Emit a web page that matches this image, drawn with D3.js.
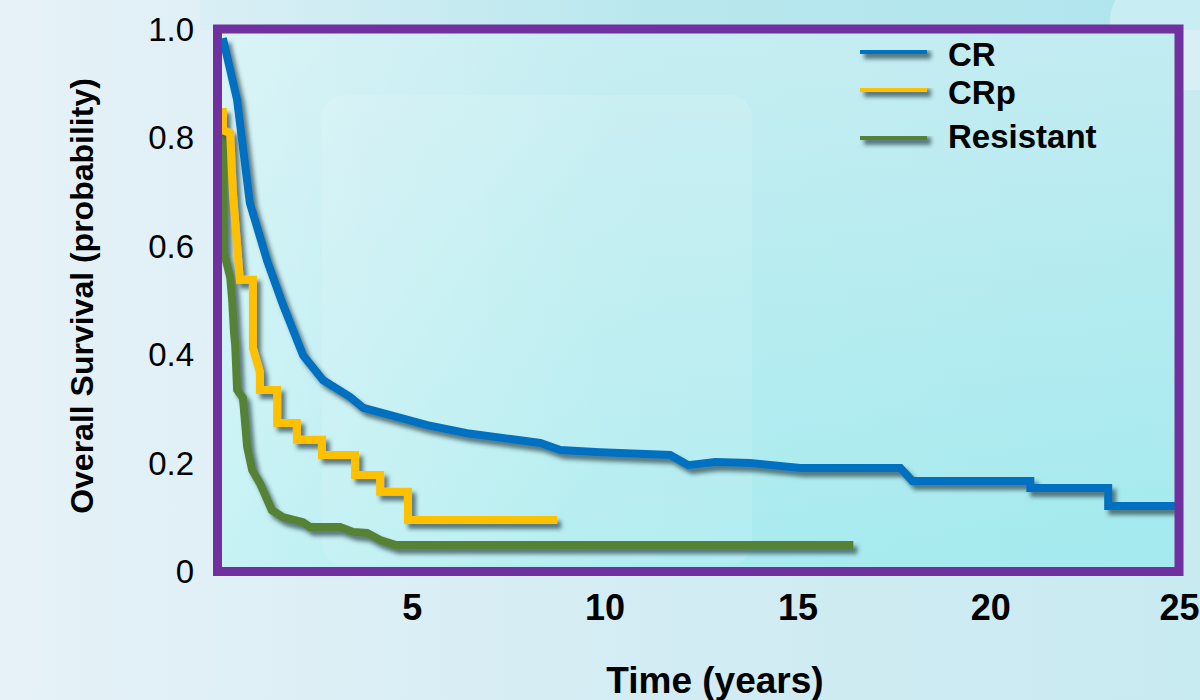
<!DOCTYPE html>
<html>
<head>
<meta charset="utf-8">
<script src="https://cdn.jsdelivr.net/npm/d3@7"></script>
<style>
  body { margin: 0; padding: 0; overflow: hidden; }
  #container { width: 1200px; height: 700px; }
  text { font-family: "Liberation Sans", Arial, sans-serif; }
</style>
</head>
<body>
<div id="container"></div>
<script>
// data (time in years, overall survival as probability)
let crTime = [0.10, 0.47, 0.80, 1.25, 1.66, 2.18, 2.70, 3.40, 3.74, 4.25, 5.40, 6.43, 8.33, 8.85, 9.88, 11.70, 12.17, 12.87, 13.77, 15.07, 17.67, 17.98, 21.04, 21.04, 23.06, 23.06, 24.80];
let crSurv = [0.985, 0.871, 0.681, 0.574, 0.493, 0.400, 0.354, 0.323, 0.303, 0.293, 0.271, 0.256, 0.238, 0.225, 0.221, 0.216, 0.197, 0.203, 0.201, 0.192, 0.192, 0.168, 0.168, 0.155, 0.155, 0.122, 0.122];

let crpTime = [0.10, 0.10, 0.29, 0.36, 0.54, 0.88, 0.88, 1.06, 1.06, 1.51, 1.51, 2.02, 2.02, 2.67, 2.67, 3.53, 3.53, 4.18, 4.18, 4.90, 4.90, 8.77];
let crpSurv = [0.856, 0.815, 0.810, 0.699, 0.539, 0.539, 0.413, 0.369, 0.336, 0.336, 0.275, 0.275, 0.244, 0.244, 0.216, 0.216, 0.179, 0.179, 0.148, 0.148, 0.096, 0.096];

let resTime = [0.10, 0.13, 0.29, 0.34, 0.39, 0.42, 0.47, 0.62, 0.73, 0.86, 1.06, 1.37, 1.66, 2.18, 2.36, 3.14, 3.48, 3.84, 4.18, 4.57, 16.45];
let resSurv = [0.812, 0.589, 0.544, 0.503, 0.441, 0.419, 0.336, 0.321, 0.231, 0.188, 0.164, 0.114, 0.101, 0.092, 0.083, 0.083, 0.074, 0.072, 0.059, 0.050, 0.050];

let seriesNames = ["CR", "CRp", "Resistant"];
let seriesColors = ["#0070c0", "#ffc000", "#548235"];

let xTicks = [5, 10, 15, 20, 25];
let yTicks = [0, 0.2, 0.4, 0.6, 0.8, 1.0];
let yTickLabels = ["0", "0.2", "0.4", "0.6", "0.8", "1.0"];

// global layout
let w = 1200;
let h = 700;
let frame = { left: 217.5, top: 29, right: 1179, bottom: 571.5 };

let viz = d3.select("#container")
  .append("svg")
    .attr("width", w)
    .attr("height", h)
;

let defs = viz.append("defs");

// backgrounds
let bgGrad = defs.append("linearGradient").attr("id", "bgGrad")
  .attr("x1", 0).attr("y1", 0).attr("x2", 1).attr("y2", 0);
bgGrad.append("stop").attr("offset", "0%").attr("stop-color", "#e6f2f8");
bgGrad.append("stop").attr("offset", "55%").attr("stop-color", "#d3ecf3");
bgGrad.append("stop").attr("offset", "100%").attr("stop-color", "#c8eaf1");

let topGrad = defs.append("linearGradient").attr("id", "topGrad")
  .attr("x1", 0).attr("y1", 0).attr("x2", 1).attr("y2", 0);
topGrad.append("stop").attr("offset", "0%").attr("stop-color", "#d9eff5");
topGrad.append("stop").attr("offset", "45%").attr("stop-color", "#b9e7ee");
topGrad.append("stop").attr("offset", "100%").attr("stop-color", "#b0e5ed");

let plotGrad = defs.append("linearGradient").attr("id", "plotGrad")
  .attr("x1", 0).attr("y1", 0).attr("x2", 0).attr("y2", 1);
plotGrad.append("stop").attr("offset", "0%").attr("stop-color", "#c2ecf1");
plotGrad.append("stop").attr("offset", "100%").attr("stop-color", "#a3eaee");

let plotSide = defs.append("linearGradient").attr("id", "plotSide")
  .attr("x1", 0).attr("y1", 0).attr("x2", 1).attr("y2", 0);
plotSide.append("stop").attr("offset", "0%").attr("stop-color", "#ffffff").attr("stop-opacity", 0.4);
plotSide.append("stop").attr("offset", "40%").attr("stop-color", "#ffffff").attr("stop-opacity", 0.08);
plotSide.append("stop").attr("offset", "100%").attr("stop-color", "#ffffff").attr("stop-opacity", 0);

// soft drop shadow under the curves (user space so flat lines keep it)
let shadow = defs.append("filter").attr("id", "shadow")
  .attr("filterUnits", "userSpaceOnUse")
  .attr("x", 0).attr("y", 0).attr("width", w).attr("height", h);
shadow.append("feDropShadow")
  .attr("dx", 4).attr("dy", 5).attr("stdDeviation", 2.2)
  .attr("flood-color", "#2a464d").attr("flood-opacity", 0.7);

viz.append("rect").attr("width", w).attr("height", h).attr("fill", "url(#bgGrad)");
viz.append("rect").attr("x", 200).attr("width", w - 200).attr("height", 30).attr("fill", "url(#topGrad)");
viz.append("rect").attr("x", 1110).attr("y", -20).attr("width", 140).attr("height", 110).attr("rx", 40)
  .attr("fill", "#ffffff").attr("opacity", 0.3);

// plot area
viz.append("rect")
  .attr("x", frame.left).attr("y", frame.top)
  .attr("width", frame.right - frame.left).attr("height", frame.bottom - frame.top)
  .attr("fill", "url(#plotGrad)");
viz.append("rect")
  .attr("x", frame.left).attr("y", frame.top)
  .attr("width", frame.right - frame.left).attr("height", frame.bottom - frame.top)
  .attr("fill", "url(#plotSide)");
viz.append("rect")
  .attr("x", 322).attr("y", 95).attr("width", 430).attr("height", 470).attr("rx", 22)
  .attr("fill", "#ffffff").attr("opacity", 0.12);

// scales
let xScale = d3.scaleLinear().domain([0, 25]).range([219, 1183]);
let yScale = d3.scaleLinear().domain([0, 1]).range([572, 30]);

// x axis
let xAxis = d3.axisBottom(xScale).tickValues(xTicks).tickSize(0).tickPadding(18).tickFormat(d3.format("d"));
let xAxisGroup = viz.append("g").classed("xAxis", true)
  .attr("transform", "translate(0," + 576 + ")")
  .call(xAxis);
xAxisGroup.select(".domain").remove();
xAxisGroup.selectAll("text")
  .attr("font-size", 36).attr("font-weight", "bold").attr("fill", "#000")
  .style("font-family", "'Liberation Sans', Arial, sans-serif");
// the last label sits at the page edge: pull it in so it is not cut
xAxisGroup.selectAll(".tick").filter(d => d == 25).select("text")
  .attr("text-anchor", "end").attr("x", w - 1 - xScale(25));

// y axis
let yAxis = d3.axisLeft(yScale).tickValues(yTicks).tickSize(0).tickPadding(10)
  .tickFormat((d, i) => yTickLabels[i]);
let yAxisGroup = viz.append("g").classed("yAxis", true)
  .attr("transform", "translate(" + 204 + ",0)")
  .call(yAxis);
yAxisGroup.select(".domain").remove();
yAxisGroup.selectAll("text")
  .attr("font-size", 33).attr("fill", "#000")
  .style("font-family", "'Liberation Sans', Arial, sans-serif");

// axis titles
viz.append("text")
  .attr("x", 715).attr("y", 693)
  .attr("text-anchor", "middle")
  .attr("font-size", 37).attr("font-weight", "bold")
  .text("Time (years)");

viz.append("text")
  .attr("transform", "translate(93,296) rotate(-90)")
  .attr("text-anchor", "middle")
  .attr("font-size", 32).attr("font-weight", "bold")
  .text("Overall Survival (probability)");

// the curves
let allSeries = [
  { name: seriesNames[0], time: crTime, surv: crSurv, color: seriesColors[0] },
  { name: seriesNames[1], time: crpTime, surv: crpSurv, color: seriesColors[1] },
  { name: seriesNames[2], time: resTime, surv: resSurv, color: seriesColors[2] }
];

let lineMaker = d3.line()
  .x(d => xScale(d[0]))
  .y(d => yScale(d[1]));

let graphGroup = viz.append("g").classed("graphGroup", true);
// draw resistant first, CR last so blue ends on top
graphGroup.selectAll(".curve").data(allSeries.slice().reverse()).enter()
  .append("path")
    .classed("curve", true)
    .attr("d", s => lineMaker(d3.zip(s.time, s.surv)))
    .attr("fill", "none")
    .attr("stroke", s => s.color)
    .attr("stroke-width", 8)
    .attr("stroke-linejoin", "miter")
    .attr("filter", "url(#shadow)")
;

// frame on top of curves
viz.append("rect")
  .attr("x", frame.left).attr("y", frame.top)
  .attr("width", frame.right - frame.left).attr("height", frame.bottom - frame.top)
  .attr("fill", "none")
  .attr("stroke", "#7030a0")
  .attr("stroke-width", 9);

// legend
let legendY = [50, 88, 136];
let legend = viz.append("g").classed("legend", true);
let legendItems = legend.selectAll(".item").data(allSeries).enter()
  .append("g").classed("item", true)
  .attr("transform", (d, i) => "translate(0," + legendY[i] + ")");
legendItems.append("line")
  .attr("x1", 860).attr("x2", 927).attr("y1", 0).attr("y2", 0)
  .attr("stroke", d => d.color).attr("stroke-width", 8)
  .attr("filter", "url(#shadow)");
legendItems.append("text")
  .attr("x", 948).attr("y", (d, i) => [16, 16, 12][i])
  .attr("font-size", 33).attr("font-weight", "bold")
  .text(d => d.name);
</script>
</body>
</html>
